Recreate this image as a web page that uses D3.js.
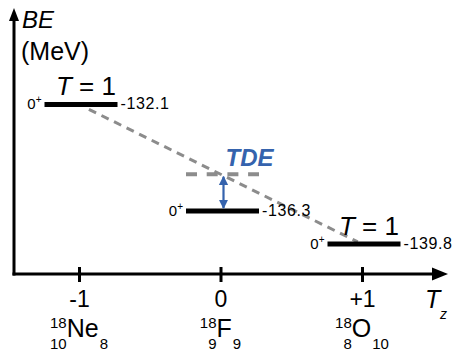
<!DOCTYPE html>
<html>
<head>
<meta charset="utf-8">
<script src="https://cdn.jsdelivr.net/npm/d3@7"></script>
<style>
  html, body { margin: 0; padding: 0; background: #fff; }
  svg { display: block; font-family: "Liberation Sans", Arial, sans-serif; }
</style>
</head>
<body>
<svg id="chart" width="456" height="353"></svg>
<script>
// Isobaric triplet A = 18: ground-state binding energies (MeV)
const nuclei     = ["Ne", "F", "O"];
const massNumber = [18, 18, 18];
const protons    = [10, 9, 8];
const neutrons   = [8, 9, 10];
const tzValues   = [-1, 0, 1];
const bindingE   = [-132.1, -136.3, -139.8];
const spinParity = ["0", "0", "0"];
const isospinLbl = ["T = 1", null, "T = 1"];
const tickLabels = ["-1", "0", "+1"];

const W = 456, H = 353;
const svg = d3.select("#chart");
svg.append("rect").attr("width", W).attr("height", H).attr("fill", "#fff");

const axisX0 = 14, axisY0 = 274;
const black = "#000", gray = "#8c8c8c", blue = "#3563ad";

// Tz across, schematic (broken) energy scale upward
const x = d3.scaleLinear().domain([-1, 1]).range([79, 362]);
const y = d3.scaleLinear().domain([-140.5, -136.3, -131]).range([250.6, 211, 76.5]);

const levels = nuclei.map((n, i) => ({
  name: n, A: massNumber[i], Z: protons[i], N: neutrons[i],
  tz: tzValues[i], be: bindingE[i], jp: spinParity[i], iso: isospinLbl[i]
}));

const barHalf = 36.5, barShift = 2;
const cx = d => x(d.tz) + barShift;

// --- axes ---
const ax = svg.append("g");
ax.append("line")
  .attr("x1", axisX0).attr("y1", axisY0 + 1.5).attr("x2", axisX0).attr("y2", 18)
  .attr("stroke", black).attr("stroke-width", 3);
ax.append("path")
  .attr("d", `M${axisX0},8 L${axisX0 - 5},21 L${axisX0 + 5},21 Z`).attr("fill", black);
ax.append("line")
  .attr("x1", axisX0 - 1.5).attr("y1", axisY0).attr("x2", 436).attr("y2", axisY0)
  .attr("stroke", black).attr("stroke-width", 3);
ax.append("path")
  .attr("d", `M448,${axisY0} L432,${axisY0 - 6.5} L432,${axisY0 + 6.5} Z`).attr("fill", black);

const xAxis = d3.axisBottom(x)
  .tickValues(tzValues)
  .tickSize(8)
  .tickFormat((d, i) => tickLabels[i]);
const gx = svg.append("g").attr("transform", `translate(0,${axisY0})`).call(xAxis);
gx.select(".domain").remove();
gx.selectAll(".tick line")
  .attr("y1", -7).attr("y2", 8)
  .attr("stroke", black).attr("stroke-width", 3);
gx.selectAll(".tick text")
  .attr("y", 33).attr("dy", null)
  .attr("font-size", 23).attr("fill", black)
  .attr("font-family", "Liberation Sans, Arial, sans-serif");

// axis titles
svg.append("text").attr("x", 22).attr("y", 28)
  .attr("font-size", 24).attr("font-style", "italic").text("BE");
svg.append("text").attr("x", 21).attr("y", 60)
  .attr("font-size", 25).text("(MeV)");
svg.append("text").attr("x", 425).attr("y", 308)
  .attr("font-size", 25).attr("font-style", "italic").text("T");
svg.append("text").attr("x", 440).attr("y", 319)
  .attr("font-size", 14).attr("font-style", "italic").text("z");

// nuclide labels under the ticks: mass number / proton number on the left, neutron number on the right
levels.forEach(d => {
  const g = svg.append("g");
  const sym = g.append("text").attr("y", 337).attr("font-size", 25).text(d.name);
  const sup = g.append("text").attr("y", 328).attr("font-size", 15)
    .attr("text-anchor", "end").text(d.A);
  const sub = g.append("text").attr("y", 349).attr("font-size", 15)
    .attr("text-anchor", "end").text(d.Z);
  const nsub = g.append("text").attr("y", 349).attr("font-size", 15).text(d.N);
  const wSym = sym.node().getComputedTextLength();
  const wPre = Math.max(sup.node().getComputedTextLength(), sub.node().getComputedTextLength());
  const wN = nsub.node().getComputedTextLength();
  const total = wPre + wSym + 1 + wN;
  const left = x(d.tz) - total / 2;
  const symX = left + wPre;
  sym.attr("x", symX);
  sup.attr("x", symX);
  sub.attr("x", symX);
  nsub.attr("x", symX + wSym + 1);
});

// --- interpolated line between the T = 1 analogue states ---
const ne = levels[0], o = levels[2];
const p0 = [x(ne.tz), y(ne.be)], p1 = [x(o.tz), y(o.be)];
const lerp = t => [p0[0] + (p1[0] - p0[0]) * t, p0[1] + (p1[1] - p0[1]) * t];
const a = lerp(0.035), b = lerp(0.985);
svg.append("line")
  .attr("x1", a[0]).attr("y1", a[1]).attr("x2", b[0]).attr("y2", b[1])
  .attr("stroke", gray).attr("stroke-width", 3).attr("stroke-dasharray", "8,6");

// expected T = 1 energy at Tz = 0 (dashed level)
const f = levels[1];
const yExp = (p0[1] + p1[1]) / 2;
svg.append("line")
  .attr("x1", cx(f) - barHalf).attr("x2", cx(f) + barHalf)
  .attr("y1", yExp).attr("y2", yExp)
  .attr("stroke", gray).attr("stroke-width", 4).attr("stroke-dasharray", "11,9.7");

// --- energy levels ---
levels.forEach(d => {
  const yc = y(d.be);
  svg.append("line")
    .attr("x1", cx(d) - barHalf).attr("x2", cx(d) + barHalf)
    .attr("y1", yc).attr("y2", yc)
    .attr("stroke", black).attr("stroke-width", 5);
  svg.append("text")
    .attr("x", cx(d) + barHalf + 3).attr("y", yc + 5)
    .attr("font-size", 16).attr("letter-spacing", 0.6).text(d.be.toFixed(1));
  const jp = svg.append("text")
    .attr("x", cx(d) - barHalf - 3).attr("y", yc + 5)
    .attr("text-anchor", "end").attr("font-size", 15);
  jp.append("tspan").text(d.jp);
  jp.append("tspan").attr("font-size", 10).attr("dy", -6).text("+");
  if (d.iso) {
    const t = svg.append("text")
      .attr("x", cx(d) + 5).attr("y", yc - 9)
      .attr("text-anchor", "middle").attr("font-size", 26);
    t.append("tspan").attr("font-style", "italic").text("T");
    t.append("tspan").text(d.iso.slice(1));
  }
});

// --- TDE double arrow ---
const defs = svg.append("defs");
["start", "end"].forEach(k => {
  defs.append("marker")
    .attr("id", "arr-" + k)
    .attr("viewBox", "0 0 10 10").attr("refX", 9).attr("refY", 5)
    .attr("markerWidth", 4.2).attr("markerHeight", 4.6)
    .attr("markerUnits", "strokeWidth")
    .attr("orient", k === "start" ? "auto-start-reverse" : "auto")
    .append("path").attr("d", "M0,0 L10,5 L0,10 Z").attr("fill", blue);
});
const arrX = x(f.tz) + 3;
svg.append("line")
  .attr("x1", arrX).attr("x2", arrX)
  .attr("y1", yExp + 2.5).attr("y2", y(f.be) - 3)
  .attr("stroke", blue).attr("stroke-width", 2.2)
  .attr("marker-start", "url(#arr-start)").attr("marker-end", "url(#arr-end)");
svg.append("text")
  .attr("x", x(f.tz) + 5).attr("y", yExp - 8)
  .attr("font-size", 24).attr("font-weight", "bold").attr("font-style", "italic")
  .attr("fill", blue).text("TDE");
</script>
</body>
</html>
